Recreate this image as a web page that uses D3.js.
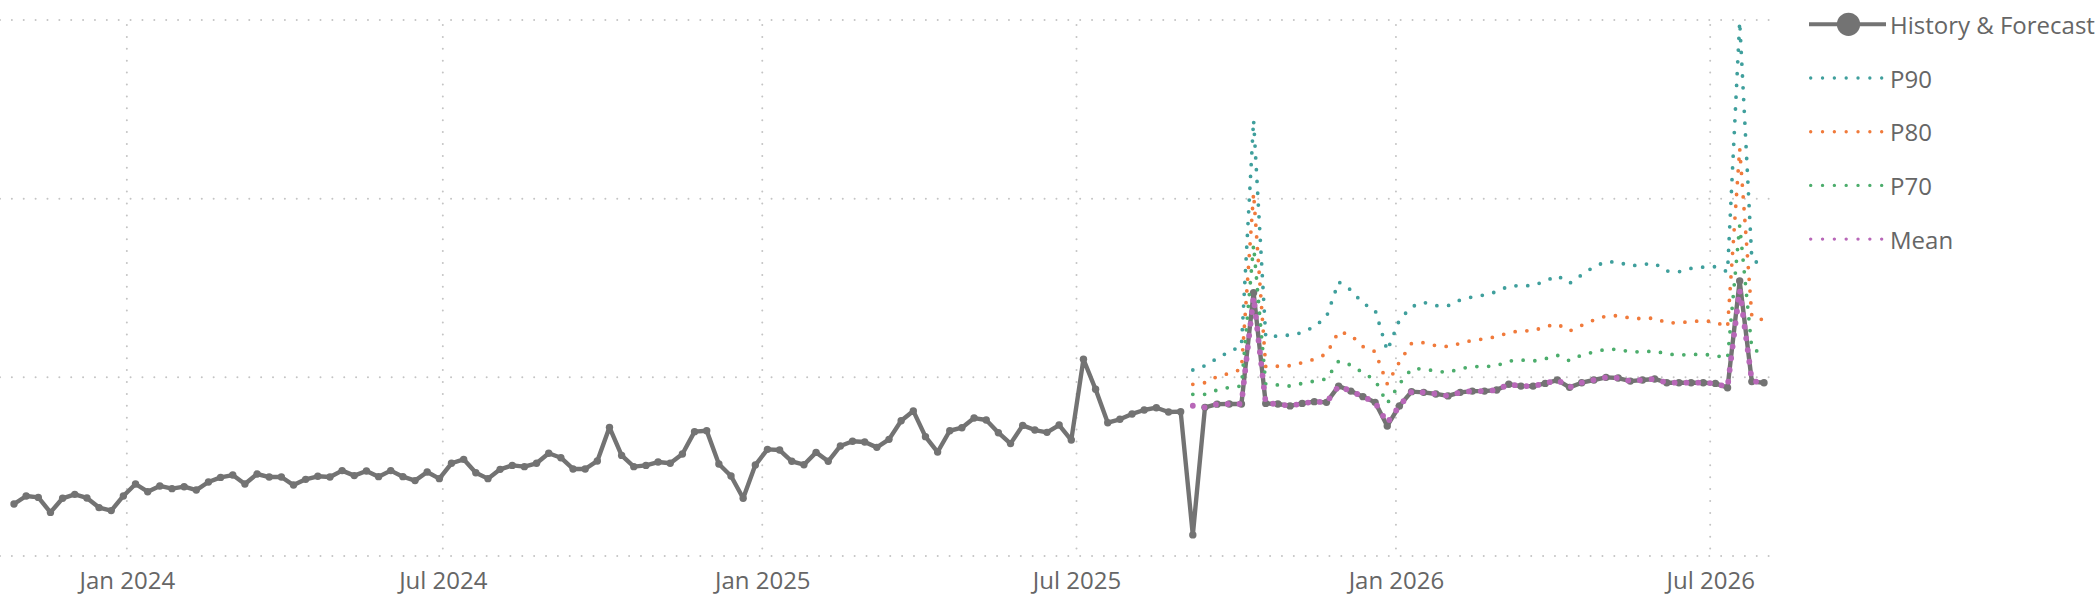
<!DOCTYPE html>
<html><head><meta charset="utf-8">
<script src="https://cdn.jsdelivr.net/npm/d3@7"></script>
<style>
html,body{margin:0;padding:0;background:#fff;}
svg{display:block;font-family:"Open Sans","Segoe UI",sans-serif;}
</style></head><body>
<svg id="chart" width="2100" height="604"></svg>
<script>
// ---- data ----
const firstWeek = "2023-10-28";      // weekly points (Saturdays)
const forecastFirstWeek = "2025-09-06";

const historyForecast = [
  29.1, 33.6, 32.8, 24.4, 32.3, 34.5, 32.5, 27.1, 25.4, 33.6,
  40.3, 36.0, 39.2, 37.7, 38.8, 36.9, 41.4, 44.0, 45.3, 40.3,
  45.9, 44.2, 44.2, 39.7, 42.9, 44.6, 44.2, 47.8, 45.0, 47.6,
  44.4, 47.8, 44.4, 42.2, 47.0, 43.3, 51.9, 54.1, 46.6, 43.3,
  48.5, 50.7, 50.0, 51.9, 57.5, 55.0, 48.7, 48.7, 53.2, 72.0,
  56.3, 50.0, 50.7, 52.6, 51.9, 57.1, 69.6, 70.1, 51.5, 44.8,
  32.3, 50.9, 59.7, 59.3, 53.0, 51.1, 58.0, 53.0, 61.6, 64.2,
  63.8, 60.8, 65.3, 75.7, 81.2, 66.8, 58.2, 70.1, 71.8, 77.2,
  76.1, 69.0, 62.9, 73.1, 70.5, 69.2, 73.3, 64.9, 110.1, 93.3,
  74.6, 76.5, 79.5, 81.7, 83.0, 80.6, 80.8, 11.8, 83.2, 85.0,
  85.1, 85.1, 147.4, 85.4, 85.1, 84.0, 85.4, 86.4, 86.0, 95.1,
  92.3, 89.2, 86.0, 72.8, 84.0, 92.0, 91.6, 90.7, 89.6, 91.6,
  92.3, 92.3, 92.9, 96.1, 95.1, 95.1, 96.6, 98.5, 94.4, 97.0,
  98.5, 100.0, 99.6, 97.9, 98.5, 99.1, 97.0, 97.0, 97.0, 97.0,
  96.6, 94.2, 153.9, 97.6, 97.0
];

const p90 = [
  104.1, 106.5, 110.6, 114.4, 117.5, 244.0, 122.8, 123.1, 123.7, 125.0,
  128.4, 133.9, 153.4, 148.9, 141.4, 137.7, 114.9, 132.1, 139.5, 142.0,
  140.1, 140.1, 143.3, 145.0, 146.1, 147.9, 151.1, 151.3, 151.3, 153.9,
  156.9, 152.6, 157.3, 161.9, 164.7, 164.5, 162.3, 163.2, 163.8, 159.5,
  159.1, 161.0, 161.7, 161.9, 159.1, 299.0, 166.0, 162.0
];
const p80 = [
  96.1, 97.0, 100.4, 102.2, 104.5, 203.0, 106.0, 106.2, 106.5, 108.2,
  110.1, 113.1, 125.6, 123.7, 117.2, 114.4, 96.3, 108.6, 119.0, 119.4,
  117.7, 117.2, 119.0, 120.7, 121.5, 122.8, 125.0, 126.1, 126.0, 128.4,
  129.8, 125.9, 129.1, 132.1, 134.3, 134.5, 133.2, 132.8, 133.2, 130.4,
  130.6, 131.2, 131.7, 131.0, 128.0, 228.0, 134.0, 132.0
];
const p70 = [
  90.5, 90.5, 92.9, 94.4, 95.1, 174.0, 96.3, 95.7, 95.1, 96.6,
  97.9, 99.1, 109.1, 106.9, 102.6, 98.5, 85.4, 96.3, 104.7, 104.8,
  103.4, 102.8, 104.8, 106.0, 106.0, 106.5, 109.1, 109.7, 109.1, 110.4,
  112.3, 109.3, 112.5, 114.2, 115.7, 115.7, 114.2, 114.3, 114.7, 113.1,
  112.5, 112.8, 112.8, 112.3, 110.6, 185.0, 116.0, 113.0
];
const mean = [
  84.1, 83.2, 85.0, 85.1, 85.1, 145.0, 85.4, 85.1, 84.0, 85.4,
  86.4, 86.0, 95.1, 92.3, 89.2, 86.0, 74.5, 84.0, 92.0, 91.6,
  90.7, 89.6, 91.6, 92.3, 92.3, 92.9, 96.1, 95.1, 95.1, 96.6,
  98.5, 94.4, 97.0, 98.5, 100.0, 99.6, 97.9, 98.5, 99.1, 97.0,
  97.0, 97.0, 97.0, 96.6, 94.5, 149.0, 98.0, 97.0
];

const tickDates = ["2024-01-01","2024-07-01","2025-01-01","2025-07-01","2026-01-01","2026-07-01"];
const gridValues = [0, 100, 200, 300];
const legendLabels = ["History & Forecast", "P90", "P80", "P70", "Mean"];
const colors = {hist:"#737373", p90:"#3f9f9c", p80:"#f07a3b", p70:"#4cad6c", mean:"#b867b8"};

// ---- setup ----
const parse = d3.timeParse("%Y-%m-%d");
const svg = d3.select("#chart");
const start = parse(firstWeek);
const fStart = parse(forecastFirstWeek);
const histDates = historyForecast.map((_, i) => d3.timeDay.offset(start, 7 * i));
const fDates = p90.map((_, i) => d3.timeDay.offset(fStart, 7 * i));

const x = d3.scaleTime()
  .domain([start, histDates[histDates.length - 1]])
  .range([14, 1764]);
const y = d3.scaleLinear().domain([0, 300]).range([556, 20]);

const gridColor = "#c4c4c4";
// horizontal gridlines
svg.append("g").selectAll("line").data(gridValues).join("line")
  .attr("x1", 0).attr("x2", 1777)
  .attr("y1", d => y(d)).attr("y2", d => y(d))
  .attr("stroke", gridColor).attr("stroke-width", 2)
  .attr("stroke-linecap", "round").attr("stroke-dasharray", "0 11.87");
// vertical gridlines
svg.append("g").selectAll("line").data(tickDates.map(parse)).join("line")
  .attr("x1", d => x(d)).attr("x2", d => x(d))
  .attr("y1", 25).attr("y2", y(0))
  .attr("stroke", gridColor).attr("stroke-width", 2)
  .attr("stroke-linecap", "round").attr("stroke-dasharray", "0 11.9");

// x axis
const xAxis = d3.axisBottom(x)
  .tickValues(tickDates.map(parse))
  .tickFormat(d3.timeFormat("%b %Y"))
  .tickSize(0);
const gx = svg.append("g").attr("transform", `translate(0,${y(0)})`).call(xAxis);
gx.select(".domain").remove();
gx.selectAll("text")
  .attr("y", 33).attr("dy", 0)
  .attr("fill", "#666666")
  .style("font-size", "24px")
  .style("font-family", '"Open Sans","Segoe UI",sans-serif');

// history & forecast line
const lineH = d3.line().x((d, i) => x(histDates[i])).y(d => y(d));
svg.append("path").datum(historyForecast)
  .attr("d", lineH).attr("fill", "none")
  .attr("stroke", colors.hist).attr("stroke-width", 4.4)
  .attr("stroke-linejoin", "round");
svg.append("g").selectAll("circle").data(historyForecast).join("circle")
  .attr("cx", (d, i) => x(histDates[i])).attr("cy", d => y(d))
  .attr("r", 3.7).attr("fill", colors.hist);

// forecast dotted lines
const lineF = d3.line().x((d, i) => x(fDates[i])).y(d => y(d));
const fSeries = [
  {vals: p90, color: colors.p90, w: 3.8},
  {vals: p80, color: colors.p80, w: 3.8},
  {vals: p70, color: colors.p70, w: 3.8},
  {vals: mean, color: colors.mean, w: 5.8}
];
fSeries.forEach(s => {
  svg.append("path").datum(s.vals)
    .attr("d", lineF).attr("fill", "none")
    .attr("stroke", s.color).attr("stroke-width", s.w)
    .attr("stroke-linecap", "round")
    .attr("stroke-dasharray", "0 11.8");
});

// legend
const legendColors = [colors.hist, colors.p90, colors.p80, colors.p70, colors.mean];
const lg = svg.append("g");
legendLabels.forEach((label, k) => {
  const cy = 24.3 + 53.7 * k;
  if (k === 0) {
    lg.append("line").attr("x1", 1809).attr("x2", 1886).attr("y1", cy).attr("y2", cy)
      .attr("stroke", legendColors[k]).attr("stroke-width", 4);
    lg.append("circle").attr("cx", 1848.5).attr("cy", cy).attr("r", 11.6).attr("fill", legendColors[k]);
  } else {
    lg.append("line").attr("x1", 1810.7).attr("x2", 1882).attr("y1", cy).attr("y2", cy)
      .attr("stroke", legendColors[k]).attr("stroke-width", 3.4)
      .attr("stroke-linecap", "round").attr("stroke-dasharray", "0 11.83");
  }
  lg.append("text").attr("x", 1890).attr("y", cy + 9.5)
    .attr("fill", "#666666").style("font-size", "24px").text(label);
});
</script>
</body></html>
